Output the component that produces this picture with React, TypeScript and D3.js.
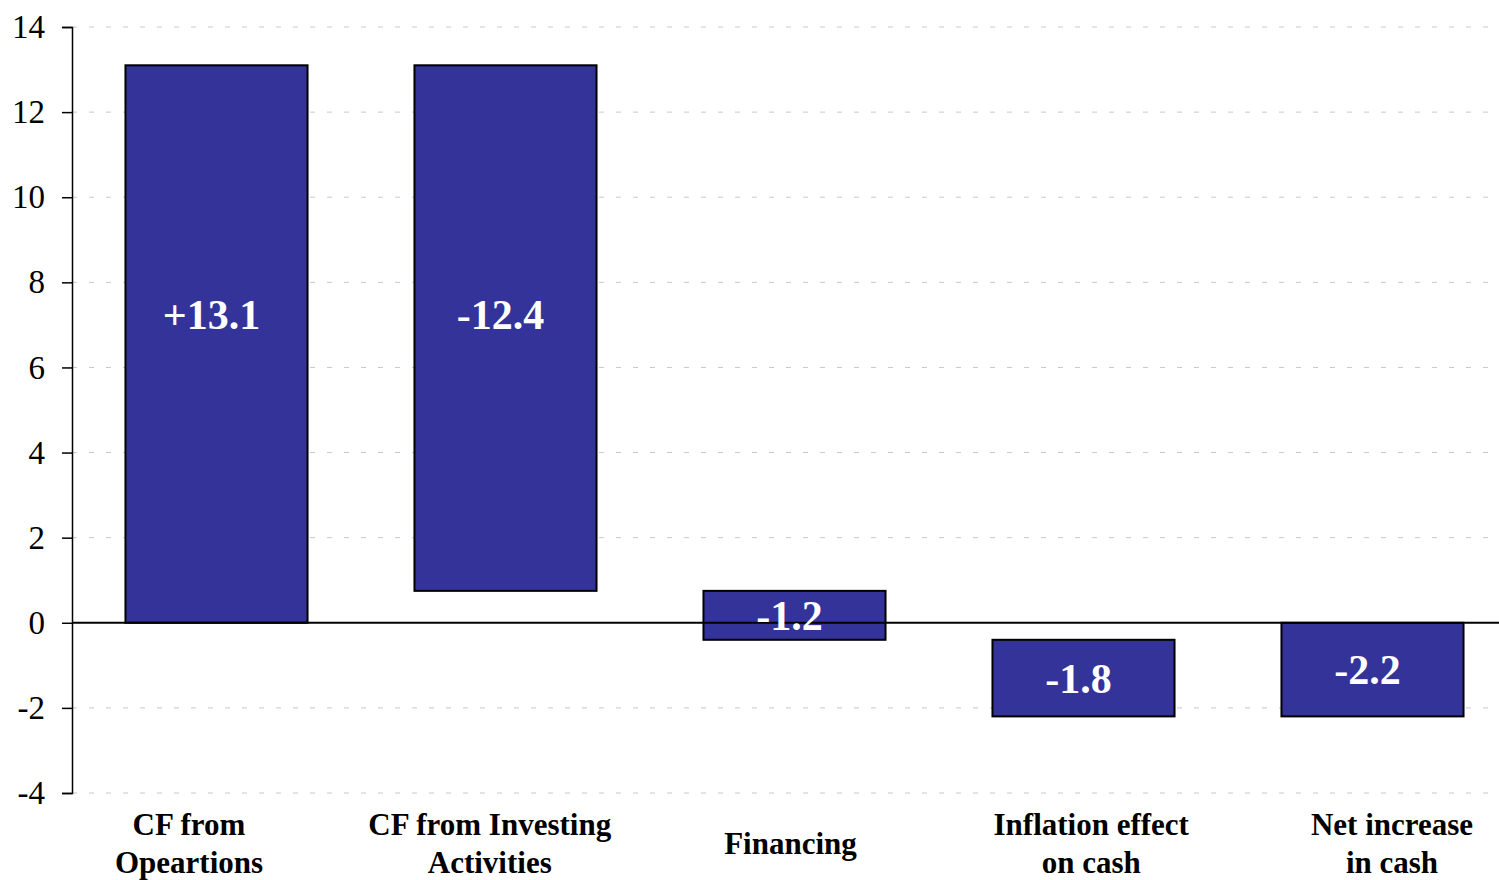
import { useEffect, useRef } from 'react';
import * as d3 from 'd3';

// categories (x labels, split in lines)
const categories = ['CF from Opeartions', 'CF from Investing Activities', 'Financing', 'Inflation effect on cash', 'Net increase in cash'];
const categoryLines = [['CF from', 'Opeartions'], ['CF from Investing', 'Activities'], ['Financing'], ['Inflation effect', 'on cash'], ['Net increase', 'in cash']];
// step changes, last bar is the total
const changes = [13.1, -12.35, -1.15, -1.8];
const valueLabels = ['+13.1', '-12.4', '-1.2', '-1.8', '-2.2'];
const yTicks = [-4, -2, 0, 2, 4, 6, 8, 10, 12, 14];

export default function App() {
  const svgRef = useRef<SVGSVGElement>(null);

  useEffect(() => {
    const width = 1499;
    const height = 880;
    const svg = d3.select(svgRef.current);
    svg.selectAll('*').remove();
    svg.attr('width', width).attr('height', height);

    const left = 72;
    const y = d3.scaleLinear().domain([-4, 14]).range([793, 27]);
    const x = d3.scaleBand().domain(categories).range([left, 1517]).paddingInner(0.37).paddingOuter(0.185);
    const xLabel = d3.scalePoint().domain(categories).range([189, 1392]);

    // build waterfall segments
    let run = 0;
    const bars = changes.map((c, i) => {
      const start = run;
      run += c;
      return { cat: categories[i], y0: start, y1: run, label: valueLabels[i] };
    });
    bars.push({ cat: categories[4], y0: 0, y1: run, label: valueLabels[4] });

    // grid lines
    svg.append('g')
      .selectAll('line')
      .data(yTicks.filter(t => t !== 0))
      .join('line')
      .attr('x1', left).attr('x2', width)
      .attr('y1', d => y(d)).attr('y2', d => y(d))
      .attr('stroke', '#c8c8c8')
      .attr('stroke-width', 1)
      .attr('stroke-dasharray', '5,12');

    // bars
    svg.append('g')
      .selectAll('rect')
      .data(bars)
      .join('rect')
      .attr('x', d => x(d.cat)!)
      .attr('width', x.bandwidth())
      .attr('y', d => y(Math.max(d.y0, d.y1)))
      .attr('height', d => Math.abs(y(d.y0) - y(d.y1)))
      .attr('fill', '#333399')
      .attr('stroke', '#000')
      .attr('stroke-width', 2);

    // zero line
    svg.append('line')
      .attr('x1', left).attr('x2', width)
      .attr('y1', y(0)).attr('y2', y(0))
      .attr('stroke', '#000').attr('stroke-width', 2);

    // value labels
    svg.append('g')
      .selectAll('text')
      .data(bars)
      .join('text')
      .attr('x', d => x(d.cat)! + x.bandwidth() / 2 - 5)
      .attr('y', d => {
        const top = Math.max(d.y0, d.y1);
        const mid = (d.y0 + d.y1) / 2;
        return y(Math.abs(d.y1 - d.y0) > 10 ? top - 5.85 : mid);
      })
      .attr('dy', '0.35em')
      .attr('text-anchor', 'middle')
      .attr('fill', '#fff')
      .style('font-family', '"Liberation Serif", "Times New Roman", serif')
      .style('font-weight', 'bold')
      .style('font-size', '42px')
      .text(d => d.label);

    // y axis
    const axis = svg.append('g').attr('transform', `translate(${left},0)`)
      .call(d3.axisLeft(y).tickValues(yTicks).tickSize(10).tickPadding(17).tickFormat(d => String(d)));
    axis.select('.domain').attr('stroke', '#000').attr('stroke-width', 1.5);
    axis.selectAll('.tick line').attr('stroke', '#000').attr('stroke-width', 1.5);
    axis.selectAll('.tick text')
      .attr('fill', '#000')
      .style('font-family', '"Liberation Serif", "Times New Roman", serif')
      .style('font-size', '33px');

    // x labels
    const xl = svg.append('g')
      .selectAll('text')
      .data(categories)
      .join('text')
      .attr('x', d => xLabel(d)!)
      .attr('y', (d, i) => categoryLines[i].length === 1 ? 854 : 835)
      .attr('text-anchor', 'middle')
      .attr('fill', '#000')
      .style('font-family', '"Liberation Serif", "Times New Roman", serif')
      .style('font-weight', 'bold')
      .style('font-size', '31px');
    xl.each(function (d, i) {
      const t = d3.select(this);
      categoryLines[i].forEach((line, j) => {
        t.append('tspan').attr('x', xLabel(d)!).attr('dy', j === 0 ? 0 : 38).text(line);
      });
    });
  }, []);

  return (
    <div style={{ position: 'absolute', left: 0, top: 0 }}>
      <svg ref={svgRef} style={{ display: 'block' }}></svg>
    </div>
  );
}
